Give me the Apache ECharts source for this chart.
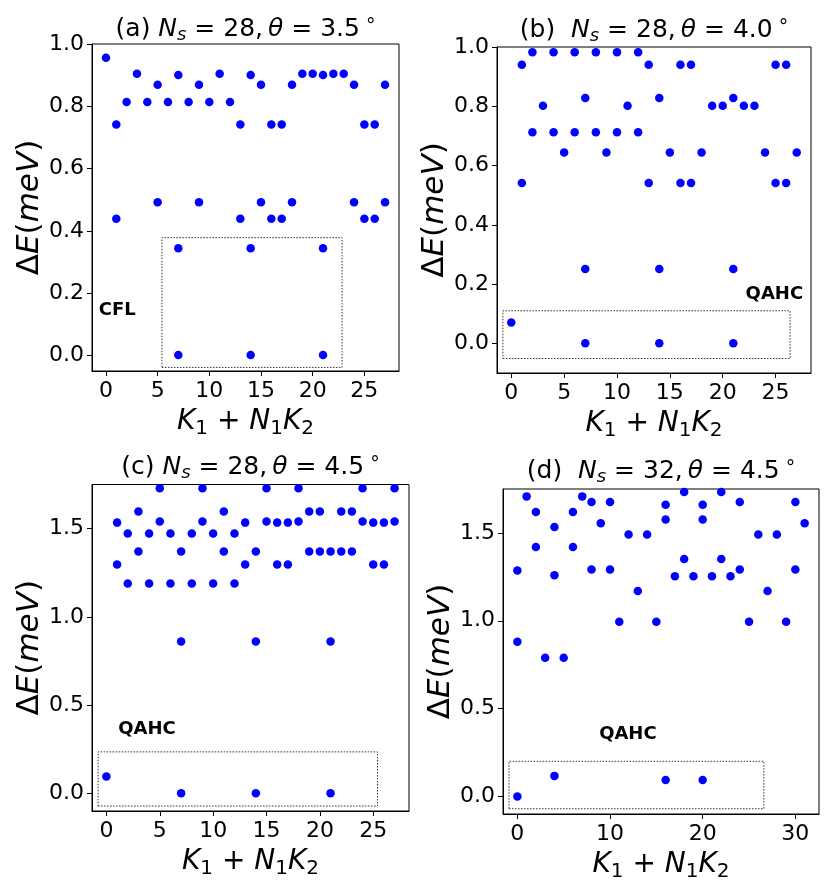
<!DOCTYPE html>
<html><head><meta charset="utf-8">
<script src="https://cdn.jsdelivr.net/npm/echarts@6/dist/echarts.min.js"></script>
<style>html,body{margin:0;padding:0;background:#fff}#c{width:831px;height:888px}</style>
</head><body><div id="c"></div>
<script>
// ---------- data ----------
// panel (a) Ns=28, theta=3.5
const kA = [0,1,1,2,3,4,5,5,6,7,7,7,8,9,9,10,11,12,13,13,14,14,14,15,15,16,16,17,17,18,18,19,20,21,21,21,22,23,24,24,25,25,26,26,27,27];
const eA = [0.957,0.742,0.439,0.815,0.906,0.815,0.870,0.492,0.815,0.902,0.344,0,0.815,0.870,0.492,0.815,0.906,0.815,0.742,0.439,0.902,0.344,0,0.870,0.492,0.742,0.439,0.742,0.439,0.870,0.492,0.906,0.906,0.902,0.344,0,0.906,0.906,0.870,0.492,0.742,0.439,0.742,0.439,0.870,0.492];
// panel (b) Ns=28, theta=4.0
const kB = [0,1,1,2,2,3,4,4,5,6,6,7,7,7,8,8,9,10,10,11,12,12,13,13,14,14,14,15,16,16,17,17,18,19,20,21,21,21,22,23,24,25,25,26,26,27];
const eB = [0.070,0.940,0.541,0.982,0.712,0.802,0.982,0.712,0.644,0.982,0.712,0.828,0.251,0,0.982,0.712,0.644,0.982,0.712,0.802,0.982,0.712,0.940,0.541,0.828,0.251,0,0.644,0.940,0.541,0.940,0.541,0.644,0.802,0.802,0.828,0.251,0,0.802,0.802,0.644,0.940,0.541,0.940,0.541,0.644];
// panel (c) Ns=28, theta=4.5
const kC = [0,1,1,2,2,3,3,4,4,5,5,6,6,7,7,7,8,8,9,9,10,10,11,11,12,12,13,13,14,14,14,15,15,16,16,17,17,18,18,19,19,20,20,21,21,21,22,22,23,23,24,24,25,25,26,26,27,27];
const eC = [0.095,1.534,1.297,1.472,1.189,1.597,1.371,1.472,1.189,1.729,1.540,1.472,1.189,1.371,0.860,0,1.472,1.189,1.729,1.540,1.472,1.189,1.597,1.371,1.472,1.189,1.534,1.297,1.371,0.860,0,1.729,1.540,1.534,1.297,1.534,1.297,1.729,1.540,1.597,1.371,1.597,1.371,1.371,0.860,0,1.597,1.371,1.597,1.371,1.729,1.540,1.534,1.297,1.534,1.297,1.729,1.540];
// panel (d) Ns=32, theta=4.5
const kD = [0,0,0,1,2,2,3,4,4,4,5,6,6,7,8,8,9,10,10,11,12,13,14,15,16,16,16,17,18,18,19,20,20,20,21,22,22,23,24,24,25,26,27,28,29,30,30,31];
const eD = [1.286,0.881,0,1.708,1.619,1.420,0.790,1.534,1.259,0.117,0.790,1.619,1.420,1.708,1.676,1.292,1.555,1.676,1.292,0.994,1.491,1.170,1.491,0.994,1.661,1.576,0.093,1.254,1.733,1.352,1.254,1.661,1.576,0.093,1.254,1.733,1.352,1.254,1.676,1.292,0.994,1.491,1.170,1.491,0.994,1.676,1.292,1.555];

// tick labels
const xTicks28 = [0,5,10,15,20,25];
const xTicks32 = [0,10,20,30];
const yTicksAB = [0,0.2,0.4,0.6,0.8,1.0];
const yTicksCD = [0,0.5,1.0,1.5];

// titles and annotations
const titles = [
  ['(a) ', '28', '3.5'],
  ['(b)  ', '28', '4.0'],
  ['(c) ', '28', '4.5'],
  ['(d)  ', '32', '4.5']
];
const labels = ['CFL', 'QAHC', 'QAHC', 'QAHC'];

// ---------- layout / style ----------
const FF = 'DejaVu Sans';
const panels = [
  {k:kA, e:eA, grid:{left:92, top:44, width:307, height:327}, x:[-1.35,28.35], y:[-0.0515,1.0016], xt:xTicks28, yt:yTicksAB,
   box:[[5.42,-0.04],[22.84,0.378]], lab:{at:[-0.75,0.145], pos:'right'}, ty:29},
  {k:kB, e:eB, grid:{left:497, top:47, width:314, height:326}, x:[-1.35,28.35], y:[-0.1,1.0], xt:xTicks28, yt:yTicksAB,
   box:[[-0.79,-0.051],[26.37,0.110]], lab:{at:[27.65,0.166], pos:'left'}, ty:30},
  {k:kC, e:eC, grid:{left:92, top:484.5, width:317, height:326.5}, x:[-1.35,28.35], y:[-0.1,1.75], xt:xTicks28, yt:yTicksCD,
   box:[[-0.78,-0.072],[25.4,0.235]], lab:{at:[1.06,0.36], pos:'right'}, ty:467},
  {k:kD, e:eD, grid:{left:503, top:489, width:316, height:325}, x:[-1.55,32.55], y:[-0.1,1.75], xt:xTicks32, yt:yTicksCD,
   box:[[-0.9,-0.07],[26.6,0.2]], lab:{at:[8.77,0.353], pos:'right'}, ty:471}
];

function richFor(F) {
  return {
    n:   {fontFamily:FF, fontSize:F, color:'#000'},
    i:   {fontFamily:FF, fontSize:F, fontStyle:'italic', color:'#000'},
    sub: {fontFamily:FF, fontSize:Math.round(F*0.7), color:'#000', padding:[Math.round(F*0.5),0,0,0]},
    isub:{fontFamily:FF, fontSize:Math.round(F*0.7), fontStyle:'italic', color:'#000', padding:[Math.round(F*0.5),0,0,0]},
    sup: {fontFamily:FF, fontSize:Math.round(F*0.75), color:'#000', padding:[0,0,Math.round(F*0.1),0]}
  };
}

const grids = [], xAxes = [], yAxes = [], series = [], graphics = [];
panels.forEach((p, i) => {
  grids.push(Object.assign({show:true, borderColor:'#000', borderWidth:1, backgroundColor:'transparent', containLabel:false, outerBoundsMode:'none'}, p.grid));
  xAxes.push({
    gridIndex:i, type:'value', min:p.x[0], max:p.x[1],
    axisLine:{show:true, onZero:false, lineStyle:{color:'#000', width:1}},
    axisTick:{show:true, customValues:p.xt, length:5, lineStyle:{color:'#000', width:1}},
    axisLabel:{customValues:p.xt, fontSize:22, fontFamily:FF, color:'#000', margin:9},
    splitLine:{show:false},
    name:'{i|K}{sub|1}{n| + }{i|N}{sub|1}{i|K}{sub|2}', nameLocation:'middle', nameGap:34,
    nameTextStyle:{rich:richFor(28)}
  });
  yAxes.push({
    gridIndex:i, type:'value', min:p.y[0], max:p.y[1],
    axisLine:{show:true, onZero:false, lineStyle:{color:'#000', width:1}},
    axisTick:{show:true, customValues:p.yt, length:5, lineStyle:{color:'#000', width:1}},
    axisLabel:{customValues:p.yt, fontSize:22, fontFamily:FF, color:'#000', margin:8, formatter:v => v.toFixed(1)},
    splitLine:{show:false},
    name:'{n|Δ}{i|E}{n|(}{i|meV}{n|)}', nameLocation:'middle', nameGap:44,
    nameTextStyle:{rich:richFor(31)}
  });
  series.push({
    type:'scatter', xAxisIndex:i, yAxisIndex:i,
    data:p.k.map((k, j) => [k, p.e[j]]),
    symbol:'circle', symbolSize:8.5, clip:false,
    itemStyle:{color:'#0000ff', opacity:1},
    silent:true, animation:false,
    markArea:{silent:true, label:{show:false},
      itemStyle:{color:'rgba(0,0,0,0)', borderColor:'#333', borderWidth:1, borderType:[1.5,1.5]},
      data:[[{coord:p.box[0]}, {coord:p.box[1]}]]},
    markPoint:{silent:true, animation:false,
      data:[{coord:p.lab.at, symbol:'circle', symbolSize:1, itemStyle:{color:'rgba(0,0,0,0)'},
        label:{show:true, position:p.lab.pos, distance:0, formatter:labels[i],
          fontFamily:FF, fontWeight:'bold', fontSize:18, color:'#000'}}]}
  });
  const t = titles[i];
  graphics.push({
    type:'text', x:p.grid.left + p.grid.width/2, y:p.ty,
    style:{text:'{n|' + t[0] + '}{i|N}{isub|s}{n| = ' + t[1] + ',\u2009}{i|θ}{n| = ' + t[2] + '}{sup| °}',
      rich:richFor(25), align:'center', verticalAlign:'middle'}
  });
});

const chart = echarts.init(document.getElementById('c'), null, {renderer:'canvas'});
chart.setOption({
  animation:false,
  backgroundColor:'#fff',
  grid:grids, xAxis:xAxes, yAxis:yAxes, series:series,
  graphic:graphics
});
</script>
</body></html>
